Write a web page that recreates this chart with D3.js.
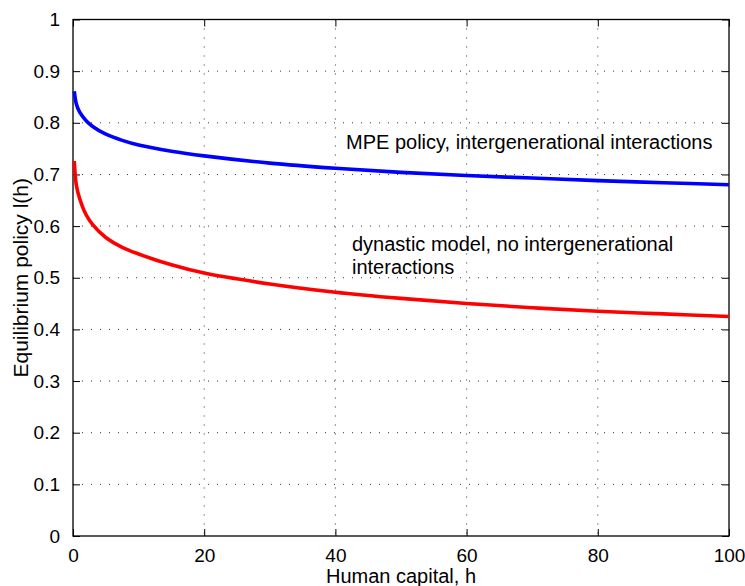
<!DOCTYPE html>
<html>
<head>
<meta charset="utf-8">
<script src="https://cdn.jsdelivr.net/npm/d3@7"></script>
<style>
  body { margin: 0; background: #fff; }
  svg { display: block; }
  text { font-family: "Liberation Sans", Arial, Helvetica, sans-serif; fill: #000; }
</style>
</head>
<body>
<div id="chart"></div>
<script>
// human capital grid
const capital = [0.2, 0.5, 1, 2, 3, 5, 7.5, 10, 15, 20, 30, 40, 50, 60, 70, 80, 90, 100]
// MPE policy with intergenerational interactions (blue)
const mpePolicy = [0.861, 0.837, 0.821, 0.804, 0.793, 0.778, 0.766, 0.757, 0.745, 0.736, 0.722, 0.712, 0.704, 0.698, 0.693, 0.688, 0.684, 0.680]
// dynastic model, no intergenerational interactions (red)
const dynasticPolicy = [0.726, 0.680, 0.654, 0.622, 0.603, 0.578, 0.559, 0.546, 0.525, 0.509, 0.488, 0.472, 0.460, 0.450, 0.442, 0.435, 0.430, 0.425]

const xTicks = [0, 20, 40, 60, 80, 100]
const yTicks = [0, 0.1, 0.2, 0.3, 0.4, 0.5, 0.6, 0.7, 0.8, 0.9, 1]

const width = 745
const height = 586
const margin = { top: 19.5, right: 16, bottom: 50, left: 73 }
const innerW = width - margin.left - margin.right
const innerH = height - margin.top - margin.bottom

const svg = d3.select('#chart').append('svg')
    .attr('width', width)
    .attr('height', height)

const g = svg.append('g')
    .attr('transform', `translate(${margin.left}, ${margin.top})`)

const x = d3.scaleLinear().domain([0, 100]).range([0, innerW])
const y = d3.scaleLinear().domain([0, 1]).range([innerH, 0])

// dotted grid
g.append('g').selectAll('line')
    .data(xTicks.slice(1, -1))
    .enter().append('line')
        .attr('x1', d => x(d)).attr('x2', d => x(d))
        .attr('y1', 0).attr('y2', innerH)
        .attr('stroke', '#333').attr('stroke-width', 1)
        .attr('stroke-dasharray', '1,8')
g.append('g').selectAll('line')
    .data(yTicks.slice(1, -1))
    .enter().append('line')
        .attr('x1', 0).attr('x2', innerW)
        .attr('y1', d => y(d)).attr('y2', d => y(d))
        .attr('stroke', '#333').attr('stroke-width', 1)
        .attr('stroke-dasharray', '1,8')

// axes, matlab style: ticks inside, box on
function styleAxis(sel) {
    sel.select('.domain').remove()
    sel.selectAll('.tick line').attr('stroke', '#000').attr('stroke-width', 1)
    sel.selectAll('.tick text').style('font-size', '19px')
}
const fmt = d3.format('~g')
g.append('g')
    .attr('transform', `translate(0, ${innerH})`)
    .call(d3.axisBottom(x).tickValues(xTicks).tickFormat(fmt).tickSizeInner(-7).tickPadding(13))
    .call(styleAxis)
g.append('g')
    .call(d3.axisTop(x).tickValues(xTicks).tickFormat('').tickSizeInner(-7))
    .call(styleAxis)
g.append('g')
    .call(d3.axisLeft(y).tickValues(yTicks).tickFormat(fmt).tickSizeInner(-7).tickPadding(13))
    .call(styleAxis)
g.append('g')
    .attr('transform', `translate(${innerW}, 0)`)
    .call(d3.axisRight(y).tickValues(yTicks).tickFormat('').tickSizeInner(-7))
    .call(styleAxis)

g.append('rect')
    .attr('width', innerW).attr('height', innerH)
    .attr('fill', 'none').attr('stroke', '#000').attr('stroke-width', 1.3)

// curves
const line = d3.line()
    .x((d, i) => x(capital[i]))
    .y(d => y(d))
    .curve(d3.curveCatmullRom.alpha(0.5))

g.append('path').datum(mpePolicy)
    .attr('d', line).attr('fill', 'none')
    .attr('stroke', '#0000ff').attr('stroke-width', 3.6)
g.append('path').datum(dynasticPolicy)
    .attr('d', line).attr('fill', 'none')
    .attr('stroke', '#ff0000').attr('stroke-width', 3.6)

// annotations
g.append('text')
    .attr('x', 346 - margin.left).attr('y', 149 - margin.top)
    .style('font-size', '20px')
    .text('MPE policy, intergenerational interactions')
const dyn = g.append('text')
    .attr('x', 352 - margin.left).attr('y', 251 - margin.top)
    .style('font-size', '20px')
dyn.append('tspan').text('dynastic model, no intergenerational')
dyn.append('tspan').attr('x', 352 - margin.left).attr('dy', 23.3).text('interactions')

// axis labels
svg.append('text')
    .attr('x', margin.left + innerW / 2).attr('y', 583)
    .attr('text-anchor', 'middle')
    .style('font-size', '20px')
    .text('Human capital, h')
svg.append('text')
    .attr('transform', `translate(28, ${margin.top + innerH / 2}) rotate(-90)`)
    .attr('text-anchor', 'middle')
    .style('font-size', '21px')
    .text('Equilibrium policy l(h)')
</script>
</body>
</html>
